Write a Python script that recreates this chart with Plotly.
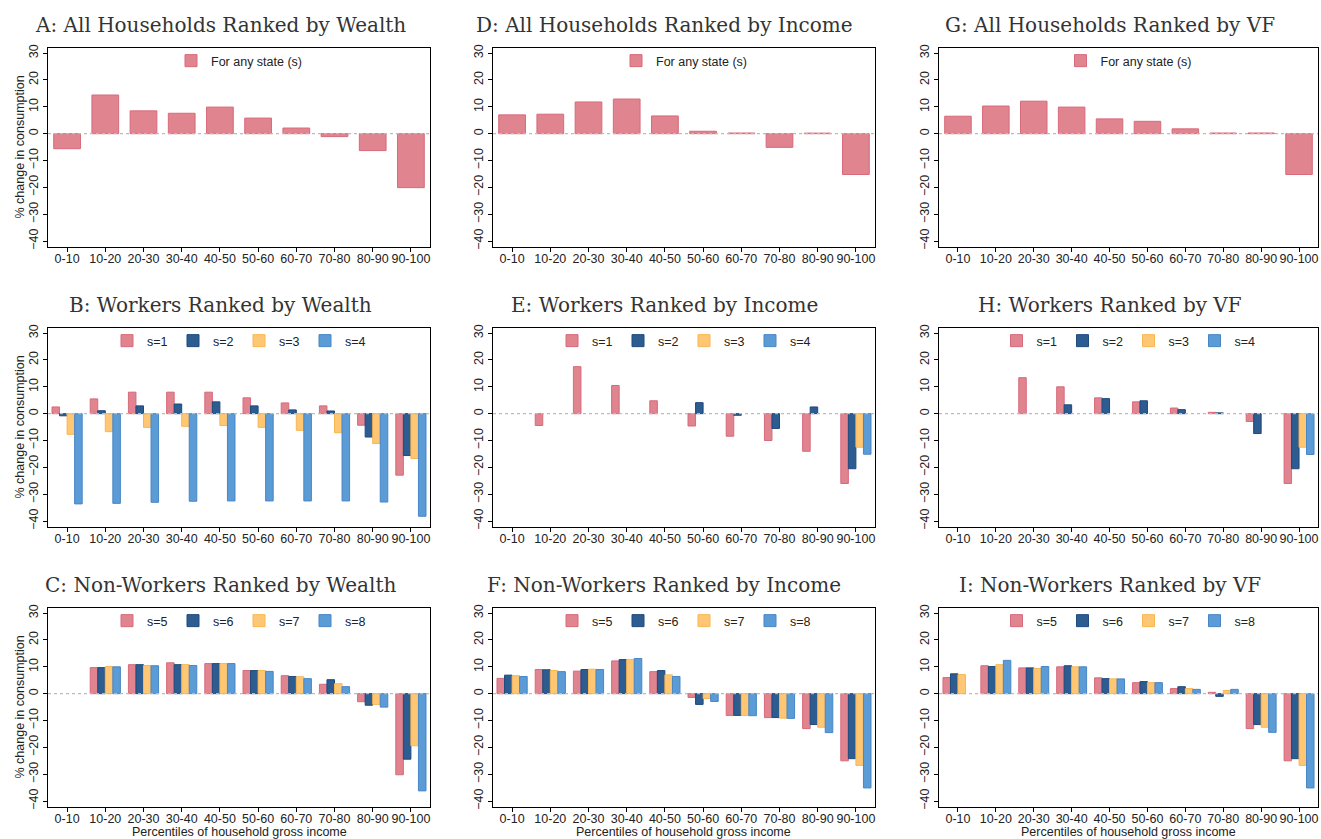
import plotly.graph_objects as go

# ---------------- data ----------------
cats = ["0-10", "10-20", "20-30", "30-40", "40-50", "50-60", "60-70", "70-80", "80-90", "90-100"]
y_ticks = [-40, -30, -20, -10, 0, 10, 20, 30]

titles = {
    "A": "A: All Households Ranked by Wealth",
    "D": "D: All Households Ranked by Income",
    "G": "G: All Households Ranked by VF",
    "B": "B: Workers Ranked by Wealth",
    "E": "E: Workers Ranked by Income",
    "H": "H: Workers Ranked by VF",
    "C": "C: Non-Workers Ranked by Wealth",
    "F": "F: Non-Workers Ranked by Income",
    "I": "I: Non-Workers Ranked by VF",
}
legend_any = "For any state (s)"
workers_names = ["s=1", "s=2", "s=3", "s=4"]
nonworkers_names = ["s=5", "s=6", "s=7", "s=8"]
y_title = "% change in consumption"
x_title = "Percentiles of household gross income"

A_all = [-5.6, 14.4, 8.5, 7.6, 9.9, 5.8, 2.1, -1.1, -6.3, -20.1]
D_all = [7.0, 7.25, 11.8, 12.9, 6.6, 0.9, 0.25, -5.1, 0.2, -15.2]
G_all = [6.5, 10.3, 12.1, 9.9, 5.5, 4.6, 1.8, 0.25, 0.25, -15.2]

B_s1 = [2.5, 5.5, 8.0, 8.0, 8.0, 5.9, 4.0, 2.9, -4.3, -22.9]
B_s2 = [-0.8, 1.1, 2.9, 3.6, 4.4, 2.9, 1.4, 1.0, -8.7, -15.6]
B_s3 = [-7.7, -6.7, -5.1, -4.7, -4.4, -5.1, -6.2, -7.1, -11.1, -16.7]
B_s4 = [-33.6, -33.4, -33.0, -32.6, -32.5, -32.5, -32.5, -32.5, -32.9, -38.2]

E_s1 = [None, -4.4, 17.5, 10.5, 4.8, -4.6, -8.4, -10.0, -14.0, -26.0]
E_s2 = [None, None, None, None, None, 4.1, -0.6, -5.5, 2.5, -20.5]
E_s3 = [None, None, None, None, None, None, None, None, None, -12.5]
E_s4 = [None, None, None, None, None, None, None, None, None, -15.1]

H_s1 = [None, None, 13.4, 10.0, 5.9, 4.4, 2.1, 0.5, -2.9, -26.0]
H_s2 = [None, None, None, 3.3, 5.6, 4.8, 1.5, 0.3, -7.4, -20.5]
H_s3 = [None, None, None, None, None, None, None, None, None, -12.5]
H_s4 = [None, None, None, None, None, None, None, None, None, -15.2]

C_s5 = [None, 9.7, 10.8, 11.5, 11.2, 8.6, 6.7, 3.5, -3.0, -30.2]
C_s6 = [None, 9.7, 10.8, 10.8, 11.2, 8.6, 6.4, 5.2, -4.3, -24.4]
C_s7 = [None, 10.1, 10.5, 10.8, 11.2, 8.6, 6.3, 3.7, -4.0, -19.4]
C_s8 = [None, 10.0, 10.4, 10.5, 11.2, 8.3, 5.6, 2.6, -5.0, -36.2]

F_s5 = [5.7, 9.0, 8.4, 12.2, 8.2, -1.4, -8.1, -8.9, -13.0, -25.0]
F_s6 = [6.9, 8.9, 9.0, 12.7, 8.6, -4.0, -8.1, -8.9, -11.5, -24.2]
F_s7 = [6.7, 8.6, 9.1, 12.7, 7.0, -1.8, -8.1, -9.1, -12.5, -26.7]
F_s8 = [6.4, 8.2, 9.0, 13.1, 6.4, -2.9, -8.2, -9.2, -14.5, -35.1]

I_s5 = [6.0, 10.4, 9.6, 10.0, 5.9, 4.1, 1.9, 0.5, -13.0, -25.0]
I_s6 = [7.4, 10.1, 9.6, 10.4, 5.6, 4.5, 2.6, -1.0, -11.5, -24.2]
I_s7 = [7.1, 10.8, 9.4, 10.0, 5.5, 4.1, 1.9, 1.2, -12.5, -26.7]
I_s8 = [None, 12.4, 10.1, 10.0, 5.5, 4.1, 1.6, 1.6, -14.4, -35.1]

# ---------------- styling ----------------
W, H = 1321, 839
fills = ["#E0848F", "#2D5C91", "#FFC774", "#5B9BD6"]
edges = ["#D86A7B", "#1E4A7E", "#F8B653", "#4886C6"]
sans = "Liberation Sans, Arial, sans-serif"
serif = "DejaVu Serif, serif"
txt = "#222222"

# panel geometry in pixels: (left, right) columns and (top, bottom) rows
col_px = [(48, 430), (493, 875), (939, 1318)]
row_px = [(48, 247), (328, 527), (608, 807)]
title_cx = [220, 664, 1110]
title_cy = [25, 305, 585]
ytitle_x = 19
xtitle_y = 832

panels = [
    ("A", 0, 0, [A_all], [legend_any]),
    ("D", 0, 1, [D_all], [legend_any]),
    ("G", 0, 2, [G_all], [legend_any]),
    ("B", 1, 0, [B_s1, B_s2, B_s3, B_s4], workers_names),
    ("E", 1, 1, [E_s1, E_s2, E_s3, E_s4], workers_names),
    ("H", 1, 2, [H_s1, H_s2, H_s3, H_s4], workers_names),
    ("C", 2, 0, [C_s5, C_s6, C_s7, C_s8], nonworkers_names),
    ("F", 2, 1, [F_s5, F_s6, F_s7, F_s8], nonworkers_names),
    ("I", 2, 2, [I_s5, I_s6, I_s7, I_s8], nonworkers_names),
]

fig = go.Figure()
layout = dict(
    width=W, height=H, autosize=False,
    margin=dict(l=0, r=0, t=0, b=0),
    paper_bgcolor="white", plot_bgcolor="white",
    barmode="group", bargap=0.21, bargroupgap=0.0,
    font=dict(family=sans, size=12, color=txt),
    showlegend=True,
)
annotations = []
shapes = []

for idx, (key, r, c, series, names) in enumerate(panels):
    n = idx + 1
    xa = "x" if n == 1 else f"x{n}"
    ya = "y" if n == 1 else f"y{n}"
    lg = "legend" if n == 1 else f"legend{n}"
    x0, x1 = col_px[c]
    top, bot = row_px[r]
    xdom = [x0 / W, x1 / W]
    ydom = [1 - bot / H, 1 - top / H]

    for k, (vals, name) in enumerate(zip(series, names)):
        bar = dict(
            x=cats, y=vals, name=name, xaxis=xa, yaxis=ya, legend=lg,
            marker=dict(color=fills[k], line=dict(color=edges[k], width=1)),
            offsetgroup=str(k), hoverinfo="x+y+name",
        )
        if len(series) == 1:
            bar["width"] = 0.7
        fig.add_trace(go.Bar(**bar))

    xkey = "xaxis" if n == 1 else f"xaxis{n}"
    ykey = "yaxis" if n == 1 else f"yaxis{n}"
    layout[xkey] = dict(
        domain=xdom, anchor=ya, type="category",
        categoryorder="array", categoryarray=cats, range=[-0.5, 9.5],
        showline=True, linecolor="#000000", linewidth=1.2, mirror=True,
        ticks="outside", ticklen=4, tickcolor="#000000",
        ticklabelstandoff=-4,
        tickfont=dict(family=sans, size=12.5, color=txt),
        showgrid=False, zeroline=False, automargin=False,
    )
    layout[ykey] = dict(
        domain=ydom, anchor=xa, range=[-42.2, 31.9],
        tickvals=y_ticks, tickangle=-90,
        showline=True, linecolor="#000000", linewidth=1.2, mirror=True,
        ticks="outside", ticklen=4, tickcolor="#000000",
        tickfont=dict(family=sans, size=12.5, color=txt),
        showgrid=False, zeroline=False, automargin=False,
    )
    layout[lg] = dict(
        orientation="h", xanchor="center", yanchor="middle",
        x=(x0 + x1) / 2 / W, y=1 - (top + 13) / H,
        bgcolor="rgba(0,0,0,0)", borderwidth=0,
        font=dict(family=sans, size=12.5, color=txt),
        itemwidth=30, entrywidth=21 if len(series) > 1 else 0,
        entrywidthmode="pixels", traceorder="normal",
        itemclick=False, itemdoubleclick=False,
    )
    shapes.append(dict(
        type="line", xref=f"{xa} domain", yref=ya, x0=0, x1=1, y0=0, y1=0,
        line=dict(color="#BBBBBB", width=1.2, dash="dot"), layer="above",
    ))
    annotations.append(dict(
        text=titles[key], xref="paper", yref="paper",
        x=title_cx[c] / W, y=1 - title_cy[r] / H,
        xanchor="center", yanchor="middle", showarrow=False,
        font=dict(family=serif, size=20, color="#333333"),
    ))
    if c == 0:
        annotations.append(dict(
            text=y_title, xref="paper", yref="paper", textangle=-90,
            x=ytitle_x / W, y=1 - (top + bot) / 2 / H,
            xanchor="center", yanchor="middle", showarrow=False,
            font=dict(family=sans, size=12.5, color=txt),
        ))
    if r == 2:
        annotations.append(dict(
            text=x_title, xref="paper", yref="paper",
            x=(x0 + x1) / 2 / W, y=1 - xtitle_y / H,
            xanchor="center", yanchor="middle", showarrow=False,
            font=dict(family=sans, size=12.5, color=txt),
        ))

layout["annotations"] = annotations
layout["shapes"] = shapes
fig.update_layout(**layout)
fig.write_html(
    "out.html",
    config={"displayModeBar": False},
    post_script="document.body.style.margin='0px';document.body.style.padding='0px';",
)
